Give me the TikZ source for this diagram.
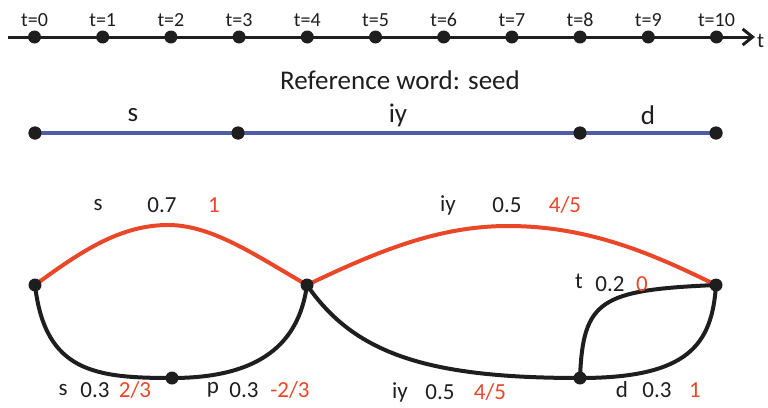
\documentclass[tikz,border=0pt]{standalone}
\usepackage{fontspec}
\setmainfont{Carlito}
\usetikzlibrary{arrows.meta}
\definecolor{myred}{RGB}{234,70,40}
\definecolor{myblue}{RGB}{78,94,166}
\definecolor{ink}{RGB}{30,30,30}
\begin{document}
\begin{tikzpicture}[x=1pt,y=-1pt,
  dot/.style={circle,fill=ink,inner sep=0pt,minimum size=13pt},
  sdot/.style={circle,fill=ink,inner sep=0pt,minimum size=13pt},
  axlab/.style={font=\fontsize{20}{22}\selectfont,text=ink},
  biglab/.style={font=\fontsize{27}{30}\selectfont,text=ink},
  lab/.style={font=\fontsize{23}{26}\selectfont,text=ink},
  rlab/.style={font=\fontsize{23}{26}\selectfont,text=myred},
  redarc/.style={draw=myred,line width=4pt},
  blkarc/.style={draw=ink,line width=4pt}]
\useasboundingbox (0,0) rectangle (768,407);
% time axis
\coordinate (ax0) at (8,37);
\coordinate (ax1) at (755,37);
\draw[ink,line width=3pt,-{Straight Barb[length=10pt,width=16pt]}] (ax0) -- (ax1);
\foreach \i in {0,...,10} {
  \node[sdot] (t\i) at ({34.5+68.2*\i},37) {};
  \node[axlab] at ({34.5+68.2*\i},20) {t=\i};
}
\node[axlab,anchor=west,inner sep=0pt,font=\fontsize{21}{23}\selectfont] (tl) at (757,41) {t};
% reference word
\node[biglab] (title) at (400,80) {Reference word: seed};
\node[dot] (r0) at (35,133) {};
\node[dot] (r1) at (238,133) {};
\node[dot] (r2) at (580,133) {};
\node[dot] (r3) at (716,133) {};
\draw[myblue,line width=4pt] (r0.center) -- (r1.center) -- (r2.center) -- (r3.center);
\foreach \n in {r0,r1,r2,r3} \node[dot] at (\n) {};
\node[biglab] at (133,115) {s};
\node[biglab] at (398,115) {iy};
\node[biglab] at (648,115) {d};
% lattice
\coordinate (A) at (35,285);
\coordinate (B) at (307,285);
\coordinate (C) at (172,378);
\coordinate (D) at (580,378);
\coordinate (E) at (716,285);
\coordinate (P1) at (168,225);
\coordinate (P2) at (508,226);
\draw[redarc] (A) .. controls (80,252) and (120,225) .. (P1)
  .. controls (212,225) and (255,255) .. (B);
\draw[redarc] (B) .. controls (380,250) and (440,226) .. (P2)
  .. controls (590,226) and (655,255) .. (E);
\draw[blkarc] (A) .. controls (45,372) and (95,378) .. (C);
\draw[blkarc] (C) .. controls (270,378) and (300,335) .. (B);
\draw[blkarc] (B) .. controls (355,355) and (430,378) .. (D);
\draw[blkarc] (D) .. controls (688,378) and (712,345) .. (E);
\draw[blkarc] (D) .. controls (583,300) and (600,290) .. (E);
\node[dot] (nA) at (A) {};
\node[dot] (nB) at (B) {};
\node[dot] (nC) at (C) {};
\node[dot] (nD) at (D) {};
\node[dot] (nE) at (E) {};
% labels
\node[lab] at (98,205) {s};
\node[lab] at (162,205) {0.7};
\node[rlab] at (214,205) {1};
\node[lab] at (448,205) {iy};
\node[lab] at (507,205) {0.5};
\node[rlab] at (565,205) {4/5};
\node[lab] at (579,281) {t};
\node[lab] at (610,284) {0.2};
\node[rlab] at (642,284) {0};
\node[lab] at (63,390) {s};
\node[lab] at (95,390) {0.3};
\node[rlab] at (135,390) {2/3};
\node[lab] at (213,390) {p};
\node[lab] at (244,390) {0.3};
\node[rlab] at (290,390) {-2/3};
\node[lab] at (400,392) {iy};
\node[lab] at (440,392) {0.5};
\node[rlab] at (490,392) {4/5};
\node[lab] at (622,390) {d};
\node[lab] at (657,390) {0.3};
\node[rlab] at (695,390) {1};
\end{tikzpicture}
\end{document}
